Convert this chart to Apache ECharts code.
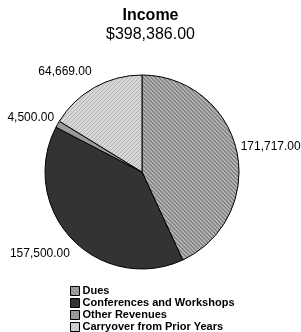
<!DOCTYPE html>
<html lang="en">
<head>
    <meta charset="UTF-8">
    <title>Income</title>
    <script src="https://cdn.jsdelivr.net/npm/echarts@6/dist/echarts.min.js"></script>
    <style>
        *{
            padding:0;
            margin:0;
        }
        html,body{
            width:301px;
            height:332px;
            background:#fff;
        }
        #main{
            width:301px;
            height:332px;
        }
    </style>
</head>
<body>
<div id="main"></div>
<script>
    var categories = ['Dues', 'Conferences and Workshops', 'Other Revenues', 'Carryover from Prior Years'];
    var values = [171717, 157500, 4500, 64669];
    var totalText = '$398,386.00';

    // small repeating fills, like the hatches in the original
    function makePattern(bg, fg, kind) {
        var c = document.createElement('canvas');
        c.width = 4; c.height = 4;
        var ctx = c.getContext('2d');
        ctx.fillStyle = bg;
        ctx.fillRect(0, 0, 4, 4);
        ctx.fillStyle = fg;
        if (kind === 'diag') {
            for (var i = 0; i < 4; i++) {
                ctx.fillRect((i + 1) % 4, i, 1, 1);
                ctx.fillRect((i + 2) % 4, i, 1, 1);
            }
        } else {
            ctx.fillRect(0, 0, 1, 1);
            ctx.fillRect(2, 2, 1, 1);
            ctx.fillRect(1, 3, 1, 1);
            ctx.fillRect(3, 1, 1, 1);
        }
        return {image: c, repeat: 'repeat'};
    }

    var colors = [
        makePattern('#b4b4b4', '#858585', 'diag'),
        '#333333',
        '#9a9a9a',
        makePattern('#d8d8d8', '#b0b0b0', 'check')
    ];

    // nudges so the value labels sit where the original put them
    var labelShift = [[-5, -4], [6, 12], [5, -5], [4, -12]];

    var data = [];
    for (var i = 0; i < categories.length; i++) {
        data.push({
            name: categories[i],
            value: values[i],
            itemStyle: {color: colors[i]}
        });
    }

    function fmt(v) {
        return v.toLocaleString('en-US', {minimumFractionDigits: 2, maximumFractionDigits: 2});
    }

    var myChart = echarts.init(document.getElementById('main'));
    var option = {
        animation: false,
        title: {
            text: 'Income',
            subtext: totalText,
            left: 'center',
            top: 3,
            itemGap: 3,
            textStyle: {
                fontFamily: 'Liberation Sans',
                fontSize: 16,
                fontWeight: 'bold',
                color: '#000'
            },
            subtextStyle: {
                fontFamily: 'Liberation Sans',
                fontSize: 16,
                color: '#000'
            }
        },
        legend: {
            orient: 'vertical',
            left: 70,
            top: 285,
            height: 60,
            padding: 0,
            itemWidth: 9,
            itemHeight: 9,
            itemGap: 0,
            icon: 'rect',
            itemStyle: {borderColor: '#000', borderWidth: 1},
            textStyle: {
                fontFamily: 'Liberation Sans',
                fontSize: 11,
                lineHeight: 12,
                fontWeight: 'bold',
                color: '#000',
                padding: [0, 0, 0, -2]
            },
            data: categories
        },
        series: [{
            type: 'pie',
            center: [142, 172],
            radius: 97,
            startAngle: 90,
            clockwise: true,
            avoidLabelOverlap: false,
            itemStyle: {borderColor: '#000', borderWidth: 1},
            label: {
                show: true,
                position: 'outside',
                formatter: function (p) { return fmt(p.value); },
                fontFamily: 'Liberation Sans',
                fontSize: 12,
                color: '#000'
            },
            labelLine: {show: false, length: 4, length2: 0},
            labelLayout: function (params) {
                var s = labelShift[params.dataIndex];
                return {dx: s[0], dy: s[1]};
            },
            emphasis: {disabled: true},
            data: data
        }]
    };
    myChart.setOption(option);
</script>
</body>
</html>
